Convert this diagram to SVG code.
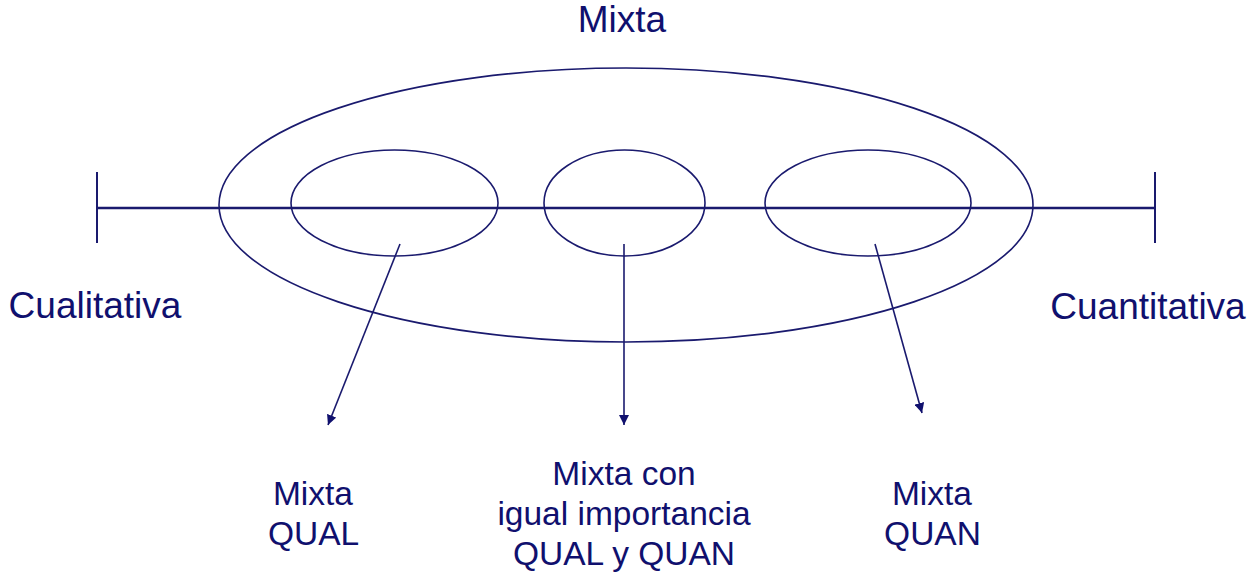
<svg xmlns="http://www.w3.org/2000/svg" width="1250" height="573" viewBox="0 0 1250 573">
<style>
.t{font-family:"Liberation Sans",Arial,sans-serif;fill:#10106e;text-anchor:middle}
.big{font-size:37px}
.sm{font-size:33.5px}
.ln{stroke:#1a1a6e;fill:none}
</style>
<defs>
<marker id="ah" viewBox="0 0 10 10" refX="10" refY="5" markerWidth="10" markerHeight="10" markerUnits="userSpaceOnUse" orient="auto">
<path d="M0,0 L10,5 L0,10 z" fill="#10106e"/>
</marker>
</defs>
<rect width="1250" height="573" fill="#fff"/>
<g id="axis">
<line class="ln" x1="97" y1="208" x2="1155" y2="208" stroke-width="2.5"/>
<line class="ln" x1="97" y1="172" x2="97" y2="243" stroke-width="2"/>
<line class="ln" x1="1155" y1="172" x2="1155" y2="243" stroke-width="2"/>
</g>
<g id="mixta">
<ellipse class="ln" cx="626" cy="205" rx="407" ry="137" stroke-width="1.6"/>
<text class="t big" x="622" y="32">Mixta</text>
</g>
<g id="qual-ellipse"><ellipse class="ln" cx="394.5" cy="203" rx="103.5" ry="53" stroke-width="1.6"/></g>
<g id="equal-ellipse"><ellipse class="ln" cx="624.5" cy="203" rx="80.5" ry="53" stroke-width="1.6"/></g>
<g id="quan-ellipse"><ellipse class="ln" cx="868" cy="203" rx="103" ry="53" stroke-width="1.6"/></g>
<g id="cualitativa"><text class="t big" x="95" y="318">Cualitativa</text></g>
<g id="cuantitativa"><text class="t big" x="1148" y="319">Cuantitativa</text></g>
<g id="label-qual"><text class="t sm" x="313" y="505">Mixta</text><text class="t sm" x="313.5" y="545">QUAL</text></g>
<g id="label-equal"><text class="t sm" x="624" y="485">Mixta con</text><text class="t sm" x="624" y="525">igual importancia</text><text class="t sm" x="624" y="565">QUAL y QUAN</text></g>
<g id="label-quan"><text class="t sm" x="932" y="505">Mixta</text><text class="t sm" x="932.5" y="545">QUAN</text></g>
<g id="connectors">
<line class="ln" x1="400" y1="244" x2="328" y2="425" stroke-width="1.6" marker-end="url(#ah)"/>
<line class="ln" x1="624" y1="244" x2="624" y2="425" stroke-width="1.6" marker-end="url(#ah)"/>
<line class="ln" x1="875" y1="244" x2="922" y2="413" stroke-width="1.6" marker-end="url(#ah)"/>
</g>
</svg>
